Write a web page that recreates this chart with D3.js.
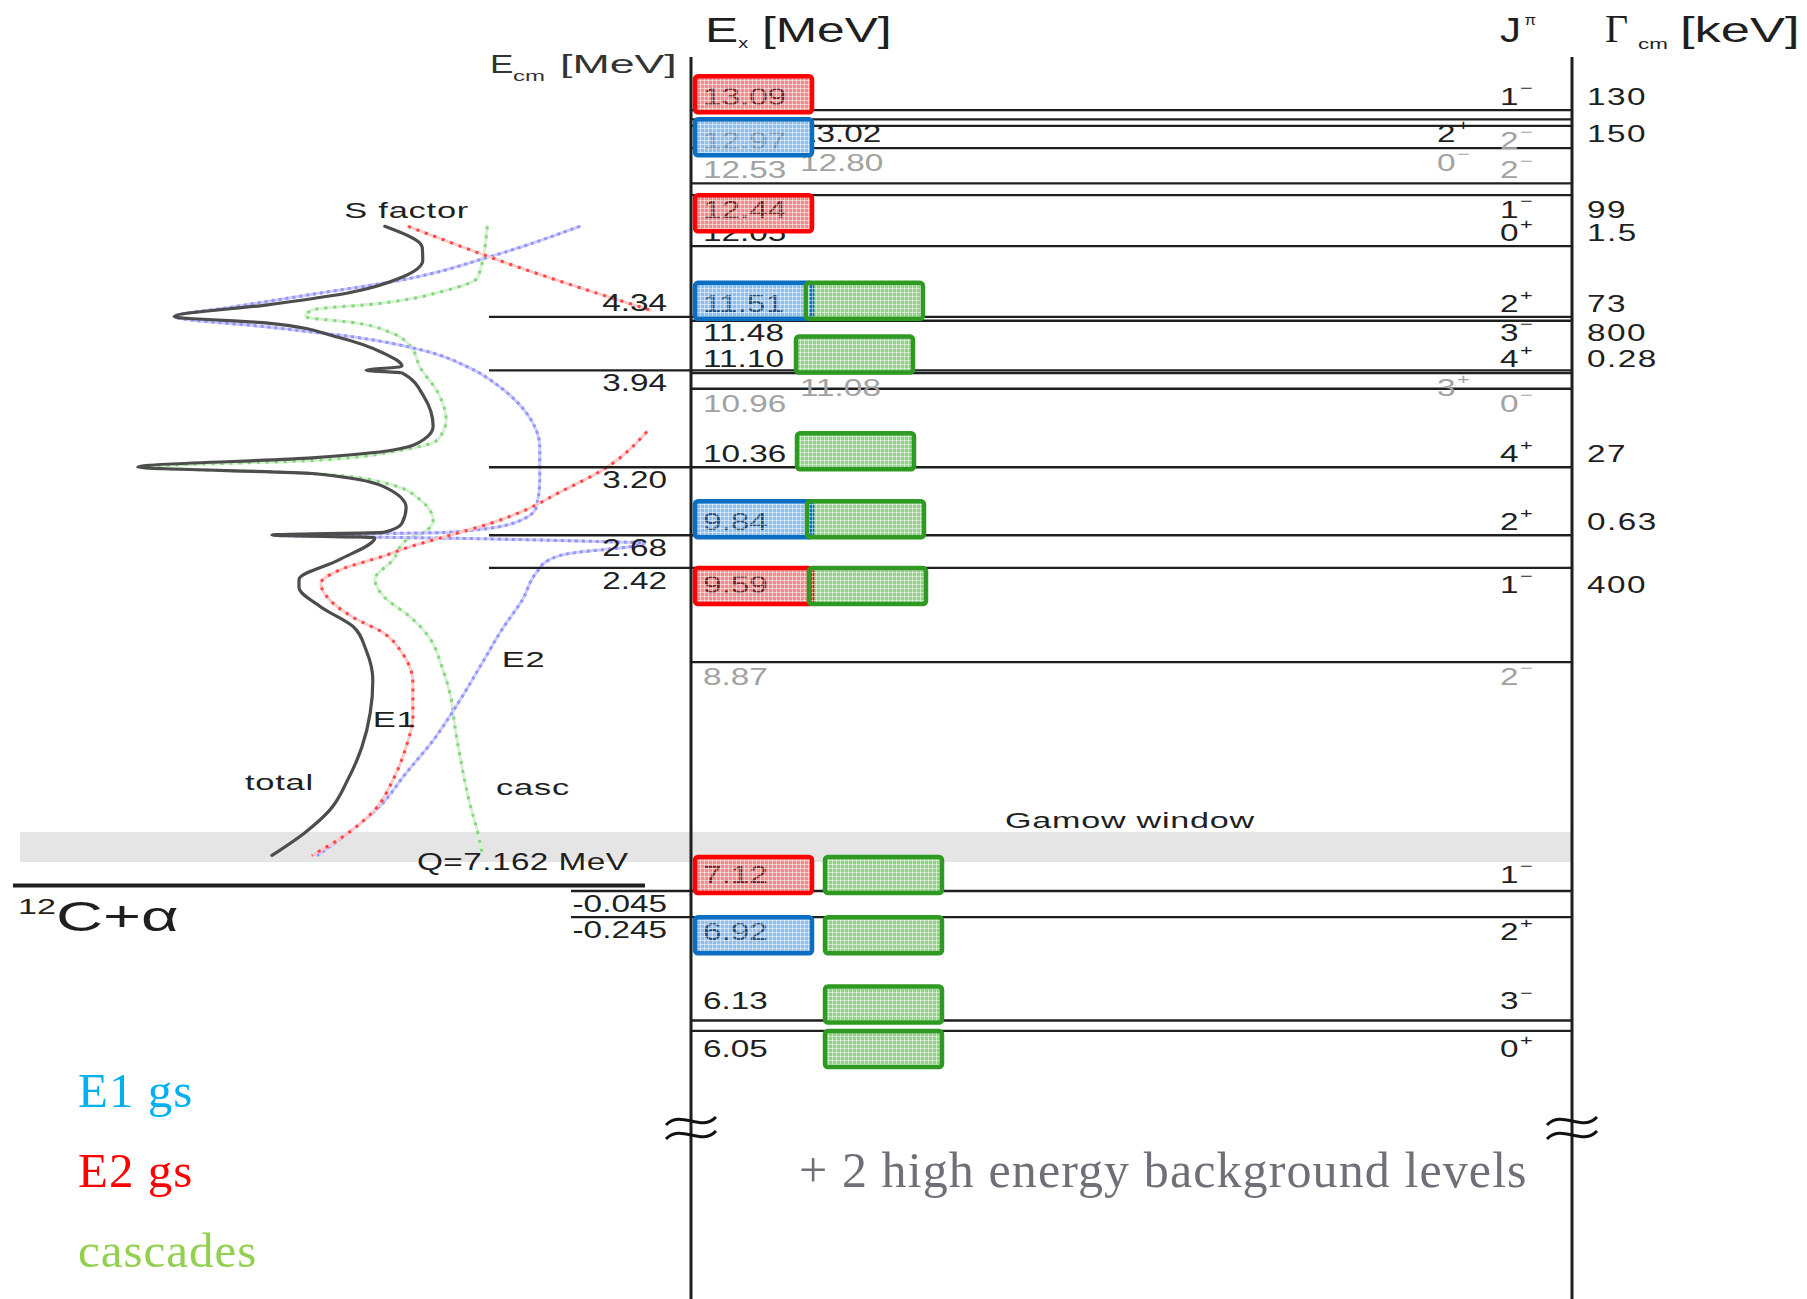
<!DOCTYPE html>
<html>
<head>
<meta charset="utf-8">
<script src="https://cdn.jsdelivr.net/npm/d3@7"></script>
<style>
  html, body { margin: 0; padding: 0; background: #fff; }
  svg { display: block; }
</style>
</head>
<body>
<svg id="chart" width="1807" height="1299"></svg>
<script>
// ---------------------------------------------------------------
// 16O level scheme around the 12C + alpha threshold, with the
// S-factor components of 12C(a,g)16O plotted against E_cm.
// ---------------------------------------------------------------

const Q = 7.162; // MeV, alpha separation energy in 16O

// Excitation energies (MeV)
const levelEx = [13.09, 13.02, 12.97, 12.80, 12.53, 12.44, 12.05, 11.51, 11.48, 11.10,
                 11.08, 10.96, 10.36, 9.84, 9.59, 8.87, 7.12, 6.92, 6.13, 6.05];
// Spin / parity
const levelJpi = ["1-", "2+", "2-", "0-", "2-", "1-", "0+", "2+", "3-", "4+",
                  "3+", "0-", "4+", "2+", "1-", "2-", "1-", "2+", "3-", "0+"];
// Alpha widths, keV (empty where not given)
const levelGamma = ["130", "150", "", "", "", "99", "1.5", "73", "800", "0.28",
                    "", "", "27", "0.63", "400", "", "", "", "", ""];
// Ground-state transition included in the fit
const levelGs = ["E1", "E2", "", "", "", "E1", "", "E2", "", "",
                 "", "", "", "E2", "E1", "", "E1", "E2", "", ""];
// Cascade transitions included in the fit
const levelCascade = [0, 0, 0, 0, 0, 0, 0, 1, 0, 1,
                      0, 0, 1, 1, 1, 0, 1, 1, 1, 1];
// 1 = natural-parity state used, 0 = listed only (drawn in grey)
const levelUsed = [1, 1, 0, 0, 0, 1, 1, 1, 1, 1,
                   0, 0, 1, 1, 1, 0, 1, 1, 1, 1];

// Levels that are also marked on the E_cm scale
const ecmLevels = [11.51, 11.10, 10.36, 9.84, 9.59, 7.12, 6.92];
const ecmLabels = ["4.34", "3.94", "3.20", "2.68", "2.42", "-0.045", "-0.245"];

// Gamow window (E_cm, MeV)
const gamowWindow = [0.18, 0.41];

// S-factor curves: [E_cm (MeV), S (arb. units)]
const sTotal = [
  [5.04, 51.0], [4.88, 43.8], [4.78, 43.7], [4.65, 47.7], [4.53, 58.1], [4.44, 73.5],
  [4.35, 91.5], [4.30, 73.5], [4.19, 59.8], [4.07, 51.2], [3.97, 47.7], [3.94, 54.6],
  [3.92, 47.7], [3.74, 43.5], [3.51, 41.7], [3.41, 43.5], [3.33, 49.4], [3.27, 65.0],
  [3.20, 98.5], [3.15, 65.0], [3.05, 51.2], [2.89, 46.9], [2.77, 47.7], [2.70, 51.2],
  [2.68, 72.7], [2.66, 52.9], [2.49, 59.8], [2.34, 67.5], [2.28, 67.5], [2.13, 63.3],
  [1.98, 57.1], [1.80, 54.6], [1.57, 53.3], [1.32, 53.8], [1.06, 55.4], [0.81, 58.1],
  [0.58, 61.5], [0.40, 66.5], [0.23, 72.7]
];
const sE1High = [[5.04, 46.5], [4.74, 26.2], [4.40, 0.0]];
const sE1Low = [
  [3.47, 0.6], [3.18, 9.0], [3.00, 17.7], [2.87, 24.0], [2.77, 30.6], [2.67, 39.2],
  [2.57, 47.7], [2.53, 50.4], [2.41, 59.8], [2.31, 63.3], [2.18, 61.5], [2.05, 57.1],
  [1.93, 51.2], [1.78, 47.7], [1.55, 45.6], [1.29, 45.6], [1.06, 46.9], [0.81, 49.4],
  [0.58, 52.9], [0.40, 58.1], [0.23, 65.0]
];
const sE2 = [
  [5.04, 13.5], [4.81, 30.6], [4.63, 47.7], [4.52, 65.0], [4.42, 80.8], [4.35, 91.5],
  [4.27, 73.5], [4.19, 56.3], [4.09, 43.5], [3.96, 34.8], [3.81, 28.8], [3.61, 23.7],
  [3.35, 21.2], [3.10, 21.2], [2.89, 21.9], [2.77, 26.3], [2.70, 39.2], [2.68, 72.7],
  [2.65, 30.6], [2.63, 9.6], [2.62, 1.0], [2.58, 5.8], [2.55, 13.5], [2.49, 19.4],
  [2.39, 21.9], [2.18, 24.6], [1.98, 28.1], [1.70, 32.3], [1.42, 36.5], [1.11, 41.7],
  [0.86, 46.9], [0.60, 52.1], [0.40, 58.1], [0.23, 64.0]
];
const sCasc = [
  [5.04, 31.3], [4.65, 33.1], [4.55, 39.2], [4.45, 52.1], [4.40, 65.0], [4.35, 66.3],
  [4.30, 56.3], [4.22, 49.4], [4.12, 46.0], [3.96, 44.2], [3.77, 40.8], [3.56, 39.2],
  [3.41, 40.8], [3.33, 47.7], [3.25, 65.0], [3.20, 97.5], [3.15, 65.0], [3.08, 51.2],
  [2.95, 44.2], [2.79, 41.7], [2.70, 43.5], [2.64, 46.9], [2.49, 49.4], [2.34, 52.9],
  [2.21, 51.2], [2.05, 46.0], [1.90, 42.5], [1.67, 40.0], [1.44, 38.3], [1.21, 37.5],
  [0.98, 36.5], [0.65, 34.8], [0.40, 33.1], [0.25, 32.3]
];

// ---------------------------------------------------------------
// Layout
// ---------------------------------------------------------------
const SANS = "'Liberation Sans', Arial, Helvetica, sans-serif";
const SERIF = "'Liberation Serif', 'Times New Roman', serif";
const INK = "#1f1f1f";
const GREY = "#a2a2a2";
const SX = 1.45;            // horizontal stretch of the sans labels

const axisL = 691, axisR = 1572, axisTop = 57, axisBottom = 1299;
const colLabel = 703, colMid = 800, colJ = 1500, colJalt = 1437, colGamma = 1587;
const gsX = 695, boxW = 117, boxH = 36;
const ecmRight = 667, ecmLineX = 489, ecmLineXneg = 571;

// which side of its line each level is labelled on, and special columns
const levelLayout = {
  "13.09": { side: "above" },
  "13.02": { side: "below", col: "mid", jcol: "alt", dx: -2 },
  "12.97": { side: "below" },
  "12.80": { side: "below", col: "mid", jcol: "alt" },
  "12.53": { side: "above" },
  "12.44": { side: "below" },
  "12.05": { side: "above" },
  "11.51": { side: "above", cascX: 806 },
  "11.48": { side: "below", dy: -3 },
  "11.10": { side: "above", cascX: 796, dy: 2 },
  "11.08": { side: "below", col: "mid", jcol: "alt" },
  "10.96": { side: "below" },
  "10.36": { side: "above", cascX: 797 },
  "9.84":  { side: "above", cascX: 807 },
  "9.59":  { side: "below", cascX: 809, dy: 2 },
  "8.87":  { side: "below" },
  "7.12":  { side: "above", cascX: 825, dy: -3 },
  "6.92":  { side: "below", cascX: 825 },
  "6.13":  { side: "above", cascX: 825, dy: -6 },
  "6.05":  { side: "below", cascX: 825, dy: 3 }
};
const ecmSide = { "4.34": "above" };

const yEx = d3.scaleLinear().domain([6, 13.2]).range([1037.5, 95.8]);
const xS = d3.scaleLinear().domain([0, 100]).range([650, 130]);
const fmt = d3.format(".2f");

const levels = levelEx.map((e, i) => {
  const label = fmt(e);
  const lay = levelLayout[label];
  const y = yEx(e);
  return {
    e, label, lay, y,
    jpi: levelJpi[i], gamma: levelGamma[i], gs: levelGs[i],
    casc: levelCascade[i] === 1, used: levelUsed[i] === 1,
    base: (lay.side === "above" ? y - 5 : y + 23) + (lay.dy || 0),
    boxTop: lay.side === "above" ? y - boxH + 2 : y,
    xl: (lay.col === "mid" ? colMid : colLabel) + (lay.dx || 0),
    inLeftCol: lay.col !== "mid"
  };
});

const svg = d3.select("#chart");

// ---------------------------------------------------------------
// Box fills and the fine grid laid over them
// ---------------------------------------------------------------
const defs = svg.append("defs");
const boxStyles = {
  E1:   { fill: "#f08c8c", stroke: "#ff0000", text: "#7d1f1f", textGrey: "#b06a6a" },
  E2:   { fill: "#8fbfec", stroke: "#0a6fc2", text: "#1f4f7d", textGrey: "#6f90b5" },
  casc: { fill: "#94d08a", stroke: "#2e9a22" }
};
const grid = defs.append("pattern").attr("id", "grid")
  .attr("width", 4).attr("height", 4).attr("patternUnits", "userSpaceOnUse");
grid.append("path").attr("d", "M0,0.5H4M0.5,0V4").attr("stroke", "#fff")
  .attr("stroke-width", 1).attr("stroke-opacity", 0.5);

// text helper: horizontally stretched label
function stext(sel, x, y, str, o = {}) {
  return sel.append("text")
    .attr("transform", `translate(${x},${y}) scale(${o.sx ?? SX},1)`)
    .attr("font-family", o.family ?? SANS)
    .attr("font-size", o.size ?? 23)
    .attr("fill", o.fill ?? INK)
    .attr("text-anchor", o.anchor ?? "start")
    .attr("letter-spacing", o.ls ?? 0)
    .text(str);
}
function jpiText(sel, x, y, j, fill) {
  const t = stext(sel, x, y, "", { fill });
  t.append("tspan").text(j[0]);
  t.append("tspan").attr("font-size", 15).attr("dy", -12).attr("dx", 1)
    .text(j[1] === "-" ? "\u2212" : "+");
}

// ---------------------------------------------------------------
// Gamow window band
// ---------------------------------------------------------------
svg.append("rect")
  .attr("x", 20).attr("width", axisR - 20)
  .attr("y", yEx(Q + gamowWindow[1]))
  .attr("height", yEx(Q + gamowWindow[0]) - yEx(Q + gamowWindow[1]))
  .attr("fill", "#e5e5e5");
stext(svg, 1130, yEx(Q + gamowWindow[1]) - 4, "Gamow window",
  { size: 22, sx: 1.55, anchor: "middle", ls: 0.5 });

// ---------------------------------------------------------------
// S-factor curves
// ---------------------------------------------------------------
const sLine = d3.line()
  .x(d => xS(d[1]))
  .y(d => yEx(d[0] + Q))
  .curve(d3.curveMonotoneY);
const gCurves = svg.append("g").attr("fill", "none").attr("stroke-linecap", "round");

function dotted(data, under, dots, dash) {
  gCurves.append("path").attr("d", sLine(data)).attr("stroke", under).attr("stroke-width", 3);
  gCurves.append("path").attr("d", sLine(data)).attr("stroke", dots)
    .attr("stroke-width", 3).attr("stroke-dasharray", dash).attr("stroke-linecap", "butt");
}
dotted(sCasc, "#d6f2d2", "#86d67f", "3 6");
dotted(sE2, "#cdcdff", "#9494ff", "3 4");
dotted(sE1High, "#ffcaca", "#ff4545", "3 6");
dotted(sE1Low, "#ffcaca", "#ff4545", "3 6");
gCurves.append("path").attr("d", sLine(sTotal)).attr("stroke", "#4d4d4d").attr("stroke-width", 3.2);

// curve annotations placed in (S, E_cm) coordinates
const curveNotes = [
  { text: "S factor", s: 58.8, e: 5.10 },
  { text: "E1", s: 53.3, e: 1.21 },
  { text: "E2", s: 28.5, e: 1.67 },
  { text: "total", s: 77.9, e: 0.73 },
  { text: "casc", s: 29.6, e: 0.69 }
];
curveNotes.forEach(n => stext(svg, xS(n.s), yEx(n.e + Q), n.text, { size: 23, sx: 1.5, ls: 0.5 }));

// ---------------------------------------------------------------
// Threshold
// ---------------------------------------------------------------
const yThr = yEx(Q);
svg.append("line").attr("x1", 13).attr("x2", 645).attr("y1", yThr).attr("y2", yThr)
  .attr("stroke", INK).attr("stroke-width", 4);
stext(svg, 417, yThr - 16, "Q=7.162 MeV", { size: 23, sx: 1.45, ls: 0.3 });
const thr = stext(svg, 18, yThr + 45, "", { size: 42, sx: 1.55 });
thr.append("tspan").attr("font-size", 22).attr("dy", -17).text("12");
thr.append("tspan").attr("dy", 17).text("C+\u03b1");

// ---------------------------------------------------------------
// Level lines
// ---------------------------------------------------------------
const gLines = svg.append("g").attr("stroke", INK).attr("stroke-width", 2.3);
levels.forEach(d => {
  const k = ecmLevels.indexOf(d.e);
  let x1 = axisL;
  if (k >= 0) x1 = ecmLabels[k].startsWith("-") ? ecmLineXneg : ecmLineX;
  gLines.append("line").attr("x1", x1).attr("x2", axisR).attr("y1", d.y).attr("y2", d.y);
});

// axes
[axisL, axisR].forEach(x => svg.append("line")
  .attr("x1", x).attr("x2", x).attr("y1", axisTop).attr("y2", axisBottom)
  .attr("stroke", INK).attr("stroke-width", 3));

// ---------------------------------------------------------------
// Boxes (fill), level labels, then grid + outline on top
// ---------------------------------------------------------------
const boxes = [];
levels.forEach(d => {
  if (d.gs) boxes.push({ x: gsX, top: d.boxTop, style: boxStyles[d.gs] });
  if (d.casc) boxes.push({ x: d.lay.cascX, top: d.boxTop, style: boxStyles.casc });
});
// a left-column label whose baseline falls inside a ground-state box is printed in it
function hostBox(d) {
  if (!d.inLeftCol) return null;
  return boxes.find(b => b.x === gsX && d.base > b.top && d.base < b.top + boxH) || null;
}

const gText = svg.append("g");
const gBoxFill = svg.append("g");
const gInBox = svg.append("g");
const gBoxTop = svg.append("g");

boxes.forEach(b => {
  gBoxFill.append("rect").attr("x", b.x).attr("y", b.top).attr("width", boxW).attr("height", boxH)
    .attr("rx", 3).attr("fill", b.style.fill);
  gBoxTop.append("rect").attr("x", b.x).attr("y", b.top).attr("width", boxW).attr("height", boxH)
    .attr("rx", 3).attr("fill", "url(#grid)")
    .attr("stroke", b.style.stroke).attr("stroke-width", 4.5);
});

levels.forEach(d => {
  const fill = d.used ? INK : GREY;
  const host = hostBox(d);
  if (host) {
    stext(gInBox, d.xl, d.base, d.label, { fill: d.used ? host.style.text : host.style.textGrey });
  } else {
    stext(gText, d.xl, d.base, d.label, { fill });
  }
  jpiText(gText, d.lay.jcol === "alt" ? colJalt : colJ, d.base, d.jpi, fill);
  if (d.gamma) stext(gText, colGamma, d.base, d.gamma, { ls: 1 });
});
ecmLevels.forEach((e, k) => {
  const y = yEx(e);
  const base = ecmSide[ecmLabels[k]] === "above" ? y - 6 : y + 21;
  stext(gText, ecmRight, base, ecmLabels[k], { anchor: "end" });
});

// ---------------------------------------------------------------
// Column headers
// ---------------------------------------------------------------
const hx = stext(svg, 705, 42, "", { size: 35, sx: 1.42 });
hx.append("tspan").text("E");
hx.append("tspan").attr("font-size", 14).attr("dy", 6).text("x");
hx.append("tspan").attr("dy", -6).text(" [MeV]");

stext(svg, 490, 73, "E", { size: 26, sx: 1.35, fill: "#333" });
stext(svg, 513, 81, "cm", { size: 15, sx: 1.6, fill: "#333" });
stext(svg, 560, 73, "[MeV]", { size: 26, sx: 1.72, fill: "#333" });

const hj = stext(svg, 1500, 42, "", { size: 35, sx: 1.2 });
hj.append("tspan").text("J");
hj.append("tspan").attr("font-size", 14).attr("dy", -17).attr("dx", 3).text("\u03c0");

stext(svg, 1605, 42, "\u0393", { family: SERIF, size: 40, sx: 1 });
stext(svg, 1638, 49, "cm", { size: 14, sx: 1.6 });
stext(svg, 1680, 42, "[keV]", { size: 35, sx: 1.5 });

// ---------------------------------------------------------------
// Axis breaks and the note on background levels
// ---------------------------------------------------------------
const yBreak = 1128;
[axisL, axisR].forEach(x => {
  [-7, 7].forEach(dy => {
    const p = d3.path();
    p.moveTo(x - 25, yBreak + dy + 4);
    p.bezierCurveTo(x - 10, yBreak + dy - 12, x + 10, yBreak + dy + 12, x + 25, yBreak + dy - 4);
    svg.append("path").attr("d", p.toString()).attr("fill", "none")
      .attr("stroke", "#111").attr("stroke-width", 3);
  });
});

svg.append("text").attr("x", 799).attr("y", 1187)
  .attr("font-family", SERIF).attr("font-size", 50).attr("letter-spacing", 1.1)
  .attr("fill", "#6f6f78").text("+ 2 high energy background levels");

// legend
const legendItems = ["E1 gs", "E2 gs", "cascades"];
const legendColors = ["#00b0f0", "#ff0000", "#92d050"];
legendItems.forEach((t, i) => {
  svg.append("text").attr("x", 78).attr("y", 1107 + i * 80)
    .attr("font-family", SERIF).attr("font-size", 49).attr("letter-spacing", 1)
    .attr("fill", legendColors[i]).text(t);
});
</script>
</body>
</html>
